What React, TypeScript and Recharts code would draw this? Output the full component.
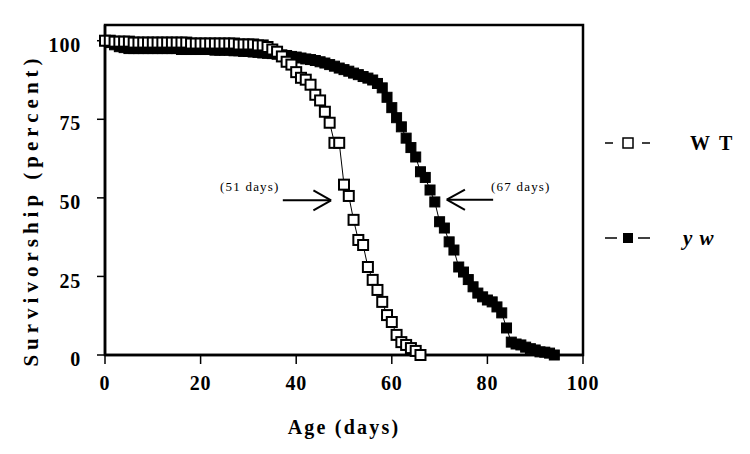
import React from "react";
import {
  LineChart, Line, XAxis, YAxis, ReferenceArea, ReferenceLine, ReferenceDot
} from "recharts";

// WT survivorship, one point per day
const wtDays = [
  0, 1, 2, 3, 4, 5, 6, 7, 8, 9, 10, 11, 12, 13, 14, 15, 16, 17, 18, 19,
  20, 21, 22, 23, 24, 25, 26, 27, 28, 29, 30, 31, 32, 33, 34, 35, 36, 37, 38, 39,
  40, 41, 42, 43, 44, 45, 46, 47, 48, 49, 50, 51, 52, 53, 54, 55, 56, 57, 58, 59,
  60, 61, 62, 63, 64, 65, 66,
];
const wtPct = [
  100, 100, 99.7, 99.7, 99.7, 99.7, 99.4, 99.4, 99.4, 99.4, 99.4, 99.4, 99.4, 99.4, 99.4, 99.4, 99.4, 99.4, 99.1, 99.1,
  99.1, 99.1, 99.1, 99.1, 99.1, 99.1, 99.1, 99.1, 98.8, 98.8, 98.8, 98.8, 98.5, 98.5, 98, 97.2, 96.5, 95, 93.3, 92.4,
  90, 88.2, 87.6, 86, 82.8, 81, 77.4, 73.9, 67.5, 67.5, 54.2, 50.6, 43, 36.6, 35, 28, 23.9, 20.7, 16.9, 12.7,
  10.5, 6.4, 4.1, 3.2, 2.2, 1.3, 0,
];

// y w survivorship
const ywDays = [
  0, 1, 2, 3, 4, 5, 6, 7, 8, 9, 10, 11, 12, 13, 14, 15, 16, 17, 18, 19,
  20, 21, 22, 23, 24, 25, 26, 27, 28, 29, 30, 31, 32, 33, 34, 35, 36, 37, 38, 39,
  40, 41, 42, 43, 44, 45, 46, 47, 48, 49, 50, 51, 52, 53, 54, 55, 56, 57, 58, 59,
  60, 61, 62, 63, 64, 65, 66, 67, 68, 69, 70, 71, 72, 73, 74, 75, 76, 77, 78, 79,
  80, 81, 82, 83, 84, 85, 86, 87, 88, 89, 90, 91, 92, 93, 94,
];
const ywPct = [
  100, 99.4, 98.7, 98.1, 97.8, 97.5, 97.5, 97.5, 97.5, 97.5, 97.5, 97.5, 97.5, 97.5, 97.5, 97.5, 97.2, 97.2, 97.2, 97.2,
  97.2, 97.2, 97.2, 97, 97, 97, 97, 96.8, 96.8, 96.6, 96.6, 96.4, 96.3, 96.1, 96, 95.9, 95.7, 95.5, 95.3, 95,
  94.8, 94.5, 94.2, 94, 93.7, 93.3, 92.9, 92.4, 91.9, 91.3, 90.8, 90.3, 89.7, 89.2, 88.6, 88.1, 87.5, 86.4, 85, 82,
  78.7, 75.5, 72.6, 69, 66, 63, 58.3, 56.5, 52.5, 48.7, 42.4, 40.4, 36, 33.4, 28, 26.4, 24, 21.7, 19.7, 18.5,
  17.5, 16.9, 15.3, 13.4, 8.6, 4.1, 3.5, 3.2, 2.5, 2, 1.6, 1, 0.9, 0.6, 0,
];

const xTicks = [0, 20, 40, 60, 80, 100];
const yTicks = [0, 25, 50, 75, 100];

const wtData = wtDays.map((d, i) => ({ day: d, pct: wtPct[i] }));
const ywData = ywDays.map((d, i) => ({ day: d, pct: ywPct[i] }));

const serif = "'Liberation Serif', 'Times New Roman', serif";
const tickStyle = { fontFamily: serif, fontWeight: 700, fontSize: 20, fill: "#000", letterSpacing: 0.8 };
const noteStyle = { fontFamily: serif, fontSize: 13, fill: "#000", letterSpacing: 1.2 };

const OpenSquare = (props: any) => {
  const { cx, cy, index } = props;
  return <rect key={`wt-${index}`} x={cx - 5} y={cy - 5} width={10} height={10} fill="#fff" stroke="#000" strokeWidth={2} />;
};

const FilledSquare = (props: any) => {
  const { cx, cy, index } = props;
  return <rect key={`yw-${index}`} x={cx - 5} y={cy - 5} width={10} height={10} fill="#000" stroke="#000" strokeWidth={1} />;
};

const YTitle = () => (
  <text x={23} y={202} transform="rotate(-90, 23, 202)" textAnchor="middle" dominantBaseline="central"
    style={{ fontFamily: serif, fontWeight: 700, fontSize: 21, fill: "#000", letterSpacing: 5 }}>
    Survivorship (percent)
  </text>
);

const XTitle = () => (
  <text x={336} y={426} textAnchor="middle"
    style={{ fontFamily: serif, fontWeight: 700, fontSize: 20, fill: "#000", letterSpacing: 2.2 }}>
    Age (days)
  </text>
);

// legend drawn beside the plot (page coords minus body margin)
const SeriesLegend = () => (
  <svg width={150} height={135} style={{ position: "absolute", left: 597, top: 117 }}>
    <line x1={0} y1={18} x2={8} y2={18} stroke="#000" strokeWidth={1.5} />
    <rect x={18} y={13} width={10} height={10} fill="#fff" stroke="#000" strokeWidth={1.5} />
    <line x1={37} y1={18} x2={45} y2={18} stroke="#000" strokeWidth={1.5} />
    <text x={85} y={25} style={{ fontFamily: serif, fontWeight: 700, fontSize: 20, letterSpacing: 9 }}>WT</text>
    <line x1={0} y1={113} x2={12} y2={113} stroke="#000" strokeWidth={1.5} />
    <rect x={18} y={108} width={10} height={10} fill="#000" />
    <line x1={33} y1={113} x2={45} y2={113} stroke="#000" strokeWidth={1.5} />
    <text x={78} y={120} style={{ fontFamily: serif, fontStyle: "italic", fontWeight: 700, fontSize: 21, letterSpacing: 1 }}>y  w</text>
  </svg>
);

export default function App() {
  return (
    <div style={{ position: "relative", width: 742, height: 446 }}>
      <LineChart width={742} height={446} margin={{ top: 17, right: 167, left: 0, bottom: 0 }}>
        <XAxis
          type="number"
          dataKey="day"
          domain={[0, 100]}
          ticks={xTicks}
          tick={tickStyle}
          tickSize={9}
          tickMargin={12}
          axisLine={{ stroke: "#000", strokeWidth: 2.5 }}
          tickLine={{ stroke: "#000", strokeWidth: 1.5 }}
          height={99}
          label={<XTitle />}
        />
        <YAxis
          type="number"
          dataKey="pct"
          domain={[0, 105]}
          ticks={yTicks}
          tick={{ ...tickStyle, dy: 4 }}
          tickSize={8}
          tickMargin={16}
          axisLine={{ stroke: "#000", strokeWidth: 2.5 }}
          tickLine={{ stroke: "#000", strokeWidth: 1.5 }}
          width={97}
          label={<YTitle />}
        />
        <ReferenceArea x1={0} x2={100} y1={0} y2={105} fill="none" stroke="#000" strokeWidth={2.5} />

        {/* median arrows */}
        <ReferenceLine segment={[{ x: 37.2, y: 49.2 }, { x: 47.3, y: 49.2 }]} stroke="#000" strokeWidth={2} />
        <ReferenceLine segment={[{ x: 47.3, y: 49.2 }, { x: 43.6, y: 52.4 }]} stroke="#000" strokeWidth={2} />
        <ReferenceLine segment={[{ x: 47.3, y: 49.2 }, { x: 43.6, y: 46 }]} stroke="#000" strokeWidth={2} />
        <ReferenceLine segment={[{ x: 81.2, y: 49.4 }, { x: 71.5, y: 49.4 }]} stroke="#000" strokeWidth={2} />
        <ReferenceLine segment={[{ x: 71.5, y: 49.4 }, { x: 75.3, y: 52.6 }]} stroke="#000" strokeWidth={2} />
        <ReferenceLine segment={[{ x: 71.5, y: 49.4 }, { x: 75.3, y: 46.2 }]} stroke="#000" strokeWidth={2} />
        <ReferenceDot x={30.3} y={53.8} r={0} fill="none" stroke="none"
          label={{ value: "(51 days)", position: "center", fill: "#000", style: noteStyle }} />
        <ReferenceDot x={87} y={53.8} r={0} fill="none" stroke="none"
          label={{ value: "(67 days)", position: "center", fill: "#000", style: noteStyle }} />

        <Line data={ywData} dataKey="pct" name="y w" type="linear" stroke="#000" strokeWidth={1}
          dot={FilledSquare} activeDot={false} isAnimationActive={false} />
        <Line data={wtData} dataKey="pct" name="WT" type="linear" stroke="#000" strokeWidth={1}
          dot={OpenSquare} activeDot={false} isAnimationActive={false} />
      </LineChart>
      <SeriesLegend />
    </div>
  );
}
